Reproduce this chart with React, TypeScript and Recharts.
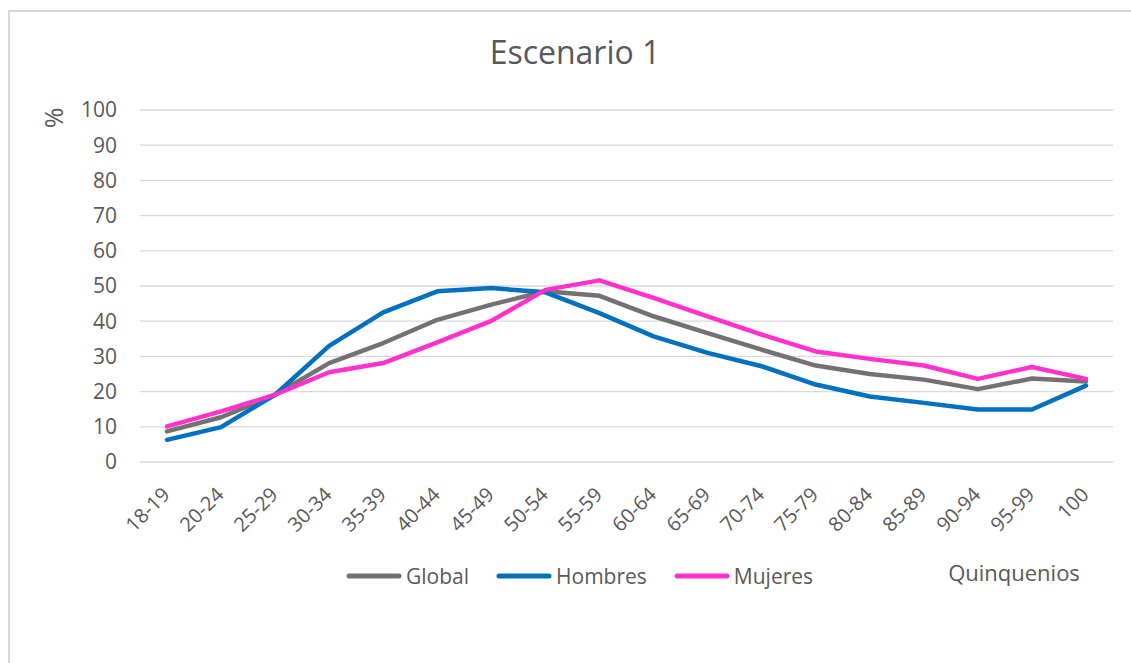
import {
  CartesianGrid,
  Legend,
  Line,
  LineChart,
  XAxis,
  YAxis,
} from "recharts";

const quinquenios = [
  "18-19", "20-24", "25-29", "30-34", "35-39", "40-44", "45-49", "50-54", "55-59",
  "60-64", "65-69", "70-74", "75-79", "80-84", "85-89", "90-94", "95-99", "100",
];

const globalPct = [8.7, 12.7, 19.1, 28.1, 33.8, 40.4, 44.7, 48.5, 47.2, 41.4, 36.6, 31.9, 27.4, 25.0, 23.4, 20.7, 23.7, 22.9];
const hombresPct = [6.3, 9.9, 19.1, 33.0, 42.5, 48.5, 49.4, 48.2, 42.3, 35.7, 31.0, 27.2, 22.0, 18.6, 16.8, 14.9, 14.9, 21.7];
const mujeresPct = [10.1, 14.4, 19.1, 25.5, 28.1, 34.0, 40.1, 48.9, 51.6, 46.6, 41.4, 36.2, 31.4, 29.3, 27.4, 23.6, 27.0, 23.6];

const yTicks = [0, 10, 20, 30, 40, 50, 60, 70, 80, 90, 100];

const FONT = "'Open Sans', 'Noto Sans', sans-serif";
const TEXT = "#595959";

const series = [
  { key: "global", name: "Global", color: "#767171" },
  { key: "hombres", name: "Hombres", color: "#0070C0" },
  { key: "mujeres", name: "Mujeres", color: "#FF33CC" },
];

const data = quinquenios.map((q, i) => ({
  q,
  global: globalPct[i],
  hombres: hombresPct[i],
  mujeres: mujeresPct[i],
}));

// rotated category labels, anchored at their end just right of the point
function AgeTick({ x, y, payload }: any) {
  const ax = x + 4;
  const ay = y + 26;
  return (
    <text
      x={ax}
      y={ay}
      transform={`rotate(-45 ${ax} ${ay})`}
      textAnchor="end"
      fill={TEXT}
      fontSize={20}
      fontFamily={FONT}
    >
      {payload.value}
    </text>
  );
}

function LegendRow({ payload }: any) {
  return (
    <div style={{ display: "flex", alignItems: "center", fontFamily: FONT, fontSize: 21, color: TEXT }}>
      {(payload ?? []).map((p: any, i: number) => (
        <div key={p.value} style={{ display: "flex", alignItems: "center", marginLeft: i === 0 ? 0 : 27 }}>
          <svg width={56} height={8} style={{ marginRight: 4 }}>
            <line x1={3} y1={4} x2={53} y2={4} stroke={p.color} strokeWidth={5} strokeLinecap="round" />
          </svg>
          <span>{p.value}</span>
        </div>
      ))}
    </div>
  );
}

export default function App() {
  return (
    <div style={{ position: "fixed", left: 0, top: 0, width: 1131, height: 663, background: "#fff" }}>
      <div
        style={{
          position: "absolute",
          left: 8,
          top: 10,
          width: 1123,
          height: 653,
          borderTop: "2px solid #d9d9d9",
          borderLeft: "2px solid #d9d9d9",
          boxSizing: "border-box",
        }}
      />
      <div
        style={{
          position: "absolute",
          left: 0,
          width: 1150,
          top: 32,
          textAlign: "center",
          fontFamily: FONT,
          fontSize: 32,
          color: TEXT,
          lineHeight: "40px",
        }}
      >
        Escenario 1
      </div>
      <div style={{ position: "absolute", left: 0, top: 0 }}>
        <LineChart width={1131} height={663} data={data} margin={{ top: 110, right: 18, bottom: 141, left: 0 }}>
          <CartesianGrid vertical={false} stroke="#d9d9d9" strokeWidth={1.3} />
          <XAxis
            dataKey="q"
            interval={0}
            height={60}
            padding={{ left: 27, right: 27 }}
            axisLine={false}
            tickLine={false}
            tick={<AgeTick />}
            label={() => (
              <text x={1014} y={581} textAnchor="middle" fill={TEXT} fontSize={22} fontFamily={FONT}>
                Quinquenios
              </text>
            )}
          />
          <YAxis
            width={140}
            domain={[0, 100]}
            ticks={yTicks}
            interval={0}
            axisLine={false}
            tickLine={false}
            tickSize={0}
            tickMargin={23}
            tick={{ fill: TEXT, fontSize: 21, fontFamily: FONT }}
            label={() => (
              <text
                x={53}
                y={118}
                transform="rotate(-90 53 118)"
                textAnchor="middle"
                dominantBaseline="central"
                fill={TEXT}
                fontSize={25}
                fontFamily={FONT}
              >
                %
              </text>
            )}
          />
          <Legend
            layout="horizontal"
            verticalAlign="middle"
            align="center"
            content={<LegendRow />}
            wrapperStyle={{ position: "absolute", left: 346, top: 562, width: "auto" }}
          />
          {series.map((s) => (
            <Line
              key={s.key}
              type="linear"
              dataKey={s.key}
              name={s.name}
              stroke={s.color}
              strokeWidth={4.5}
              strokeLinecap="round"
              strokeLinejoin="round"
              dot={false}
              activeDot={false}
              isAnimationActive={false}
            />
          ))}
        </LineChart>
      </div>
    </div>
  );
}
